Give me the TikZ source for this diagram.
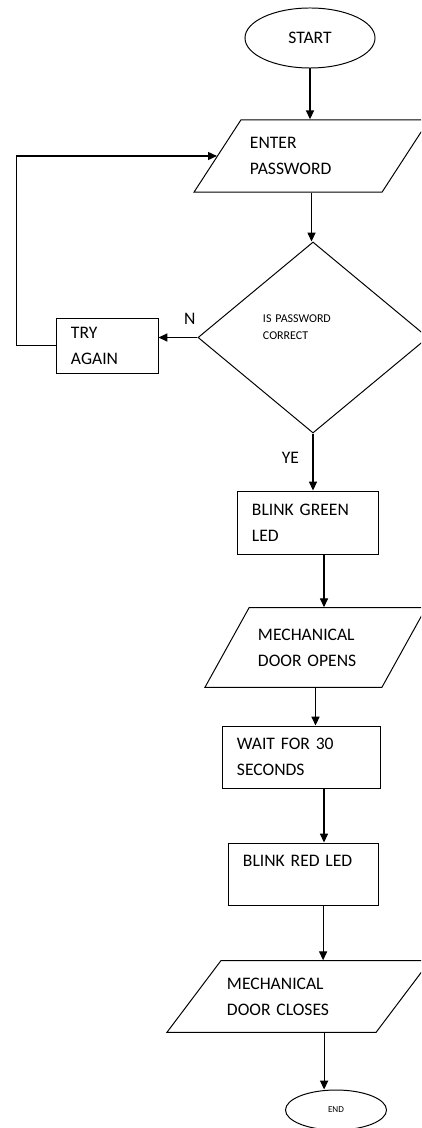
\documentclass[tikz,border=0pt]{standalone}
\usepackage{fontspec}
\setmainfont{Carlito}
\usetikzlibrary{arrows.meta,shapes.geometric}

\begin{document}
\begin{tikzpicture}[
    x=0.025cm, y=-0.025cm,
    font=\fontsize{12.5}{18.5}\selectfont,
    termbox/.style={draw, ellipse, line width=0.7pt, inner sep=0pt},
    iobox/.style={draw, trapezium, trapezium stretches body=true, align=left, line width=0.7pt},
    procbox/.style={draw, rectangle, align=left, line width=0.7pt, inner xsep=0.35cm, inner ysep=0pt},
    decbox/.style={draw, diamond, align=left, line width=0.7pt, inner sep=0pt, font=\fontsize{8.5}{12}\selectfont},
    arr/.style={-{Triangle[length=2.2mm, width=2mm]}, line width=0.8pt}
]
\clip (0,0) rectangle (421,1128);

\node[termbox, minimum width=3.25cm, minimum height=1.5cm] (start) at (310,38) {START};
\node[iobox, trapezium left angle=57, trapezium right angle=123, minimum width=5.875cm, inner ysep=0.4375cm, text width=3.075cm] (enterpw) at (311.5,156) {ENTER\\PASSWORD};
\node[decbox, minimum width=5.75cm, minimum height=4.775cm, text width=2.5cm] (check) at (313,337.5) {IS PASSWORD\\CORRECT\\[2.2pt]\mbox{}};
\node[procbox, minimum height=1.375cm, text width=1.825cm] (retry) at (107.5,345.5) {TRY\\AGAIN};
\node[procbox, minimum height=1.575cm, text width=2.8cm] (green) at (308,522.5) {BLINK GREEN\\LED};
\node[iobox, trapezium left angle=61, trapezium right angle=119, minimum width=5.525cm, inner ysep=0.525cm, text width=2.875cm] (opens) at (315.5,647.5) {MECHANICAL\\DOOR OPENS};
\node[procbox, minimum height=1.55cm, text width=3.225cm] (wait) at (301.5,757) {WAIT FOR 30\\SECONDS};
\node[procbox, minimum height=1.55cm, text width=3.025cm] (red) at (303.5,874) {BLINK RED LED\\\mbox{}};
\node[iobox, trapezium left angle=53, trapezium right angle=127, minimum width=6.575cm, inner ysep=0.425cm, text width=3.575cm] (closes) at (298.5,996.5) {MECHANICAL\\DOOR CLOSES};
\node[termbox, minimum width=2.525cm, minimum height=1cm, font=\fontsize{6.5}{8}\selectfont] (stop) at (336,1110) {END};

\draw[arr] (start.south) -- (start.south |- enterpw.north);
\draw[arr] (enterpw.south) -- (enterpw.south |- check.north);
\draw[arr] (check.west) -- (check.west -| retry.east) node[pos=0.2, above=0.2cm] {N};
\draw[arr] (retry.west) -- ++(-1cm,0) |- (enterpw.west);
\draw[arr] (check.south) -- (check.south |- green.north) node[pos=0.42, left=0.22cm] {YE};
\draw[arr] ([xshift=0.4cm]green.south) -- ([xshift=0.4cm]green.south |- opens.north);
\draw[arr] (opens.south) -- (opens.south |- wait.north);
\draw[arr] ([xshift=0.5625cm]wait.south) -- ([xshift=0.5625cm]wait.south |- red.north);
\draw[arr] ([xshift=0.49cm]red.south) -- ([xshift=0.49cm]red.south |- closes.north);
\draw[arr] ([xshift=0.64cm]closes.south) -- ([xshift=0.64cm]closes.south |- stop.north);
\end{tikzpicture}
\end{document}
